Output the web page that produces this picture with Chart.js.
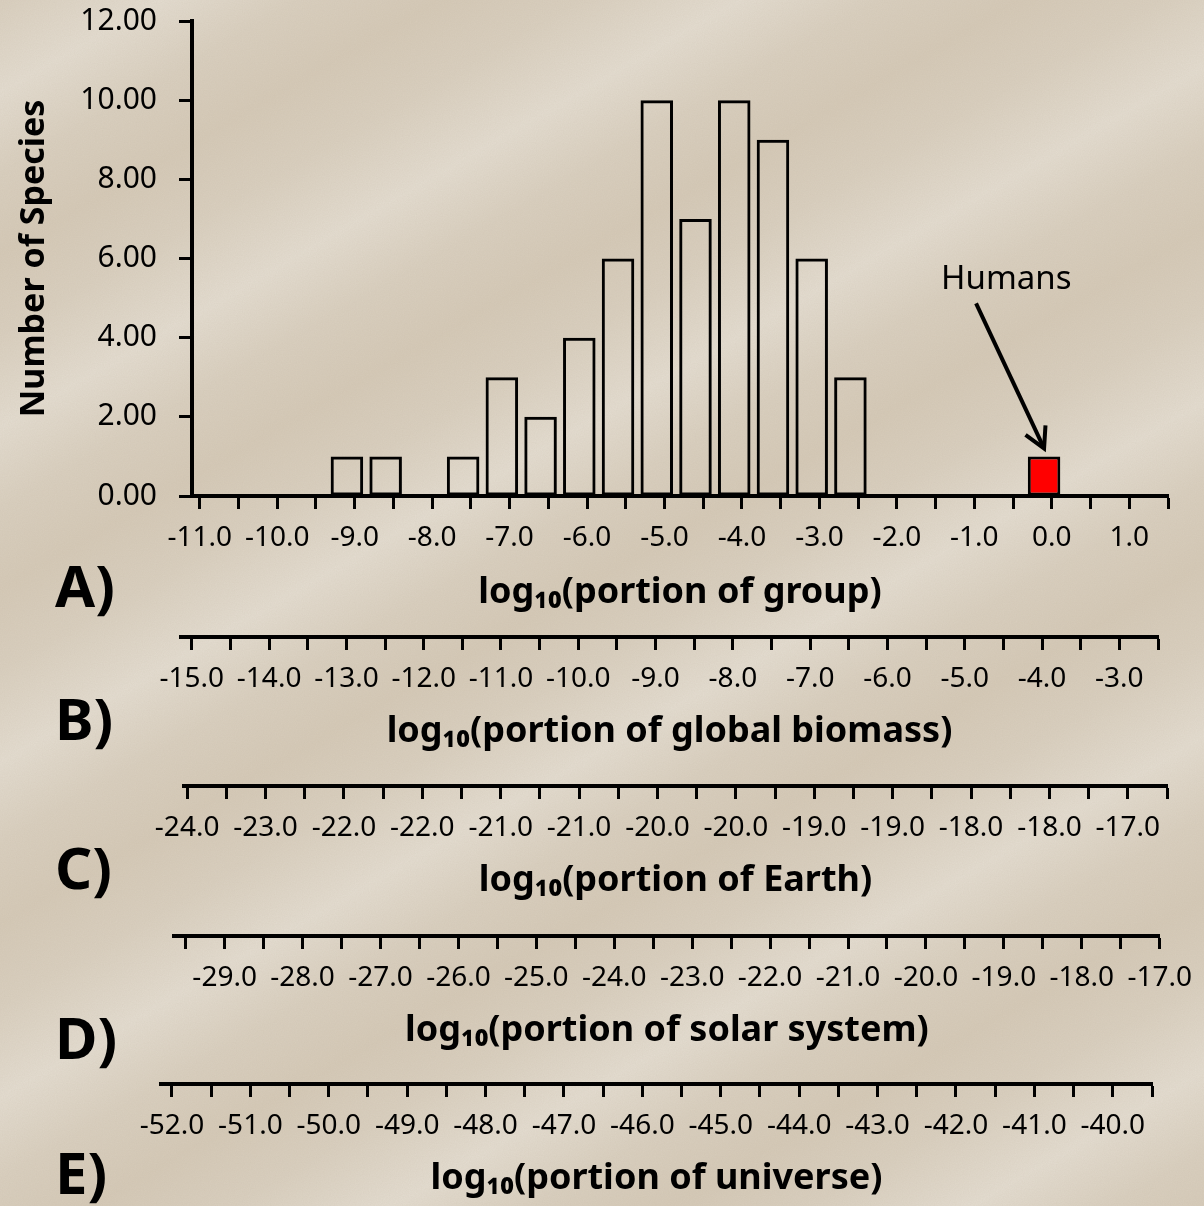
<!DOCTYPE html>
<html>
<head>
<meta charset="utf-8">
<title>Species biomass histogram</title>
<script src="https://cdn.jsdelivr.net/npm/chart.js@4.4.1/dist/chart.umd.min.js"></script>
<style>
  html, body { margin: 0; padding: 0; }
  body {
    width: 1204px;
    height: 1206px;
    position: relative;
    overflow: hidden;
    background-color: #d9cfbf;
    background-image:
      repeating-linear-gradient(150deg,
        rgba(236, 231, 222, 0) 0px,
        rgba(236, 231, 222, 0.55) 80px,
        rgba(236, 231, 222, 0) 150px,
        rgba(200, 184, 160, 0.25) 220px,
        rgba(236, 231, 222, 0) 290px);
  }
  .grain {
    position: absolute;
    left: 0; top: 0; width: 1204px; height: 1206px;
    background-image: url("data:image/svg+xml;utf8,<svg xmlns='http://www.w3.org/2000/svg' width='300' height='300'><filter id='n'><feTurbulence type='fractalNoise' baseFrequency='0.85' numOctaves='2' stitchTiles='stitch'/><feColorMatrix values='0 0 0 0 0.45 0 0 0 0 0.38 0 0 0 0 0.28 0 0 0 0.5 0'/></filter><rect width='100%' height='100%' filter='url(%23n)'/></svg>");
    opacity: 0.3;
  }
  canvas { position: absolute; left: 0; }
  .panel {
    position: absolute;
    left: 55px;
    font: bold 58px 'Noto Sans', sans-serif;
    line-height: 58px;
    color: #000;
  }
</style>
</head>
<body>
<div class="grain"></div>
<canvas id="chartA" width="1204" height="633" style="top:-19px"></canvas>
<canvas id="axisB" width="1204" height="280" style="top:475px"></canvas>
<canvas id="axisC" width="1204" height="280" style="top:624px"></canvas>
<canvas id="axisD" width="1204" height="280" style="top:774px"></canvas>
<canvas id="axisE" width="1204" height="280" style="top:922px"></canvas>
<div class="panel" style="top:556px">A)</div>
<div class="panel" style="top:689px">B)</div>
<div class="panel" style="top:838px">C)</div>
<div class="panel" style="top:1008px">D)</div>
<div class="panel" style="top:1143px">E)</div>

<script>
// Histograma: centro de cada barra en log10(porción del grupo) y número de especies
const binCenters = [-9.1, -8.6, -7.6, -7.1, -6.6, -6.1, -5.6, -5.1, -4.6, -4.1, -3.6, -3.1, -2.6, -0.1];
const speciesCounts = [1, 1, 1, 3, 2, 4, 6, 10, 7, 10, 9, 6, 3, 1];
const humansBin = -0.1;

// Etiquetas de los ejes secundarios (una por unidad del eje A)
const biomassLabels = ['-15.0', '-14.0', '-13.0', '-12.0', '-11.0', '-10.0', '-9.0', '-8.0', '-7.0', '-6.0', '-5.0', '-4.0', '-3.0'];
const earthLabels = ['-24.0', '-23.0', '-22.0', '-22.0', '-21.0', '-21.0', '-20.0', '-20.0', '-19.0', '-19.0', '-18.0', '-18.0', '-17.0'];
const solarLabels = ['-29.0', '-28.0', '-27.0', '-26.0', '-25.0', '-24.0', '-23.0', '-22.0', '-21.0', '-20.0', '-19.0', '-18.0', '-17.0'];
const universeLabels = ['-52.0', '-51.0', '-50.0', '-49.0', '-48.0', '-47.0', '-46.0', '-45.0', '-44.0', '-43.0', '-42.0', '-41.0', '-40.0'];

Chart.defaults.font.family = "'Noto Sans', sans-serif";
Chart.defaults.color = '#000';

const gridStyle = { drawOnChartArea: false, offset: false, color: '#000', tickLength: 13, tickWidth: 3 };
const borderStyle = { display: true, color: '#000', width: 4 };

// Flecha y texto "Humans" apuntando a la barra roja
const humansArrow = {
    id: 'humansArrow',
    afterDatasetsDraw(chart) {
        const { ctx, scales: { x, y } } = chart;
        const i = binCenters.indexOf(humansBin);
        const tipX = x.getPixelForValue(humansBin);
        const tipY = y.getPixelForValue(speciesCounts[i]) - 8;
        const tailX = tipX - 68;
        const tailY = tipY - 145;
        const ang = Math.atan2(tipY - tailY, tipX - tailX);
        const head = 23;

        ctx.save();
        ctx.strokeStyle = '#000';
        ctx.fillStyle = '#000';
        ctx.lineWidth = 4;
        ctx.lineJoin = 'miter';
        ctx.beginPath();
        ctx.moveTo(tailX, tailY);
        ctx.lineTo(tipX - Math.cos(ang) * 3, tipY - Math.sin(ang) * 3);
        ctx.stroke();
        ctx.beginPath();
        ctx.moveTo(tipX - head * Math.cos(ang - 0.5), tipY - head * Math.sin(ang - 0.5));
        ctx.lineTo(tipX, tipY);
        ctx.lineTo(tipX - head * Math.cos(ang + 0.5), tipY - head * Math.sin(ang + 0.5));
        ctx.stroke();

        ctx.font = "33px 'Noto Sans', sans-serif";
        ctx.textBaseline = 'alphabetic';
        ctx.textAlign = 'left';
        ctx.fillText('Humans', tipX - 103, tipY - 159);
        ctx.restore();
    }
};

// Gráfico principal (A)
new Chart(document.getElementById('chartA'), {
    type: 'bar',
    data: {
        datasets: [{
            label: 'Number of Species',
            data: binCenters.map((x, i) => ({ x, y: speciesCounts[i] })),
            backgroundColor: binCenters.map(x => x === humansBin ? '#ff0000' : 'rgba(0,0,0,0)'),
            borderColor: '#000',
            borderWidth: 3,
            borderSkipped: false,
            barPercentage: 0.84,
            categoryPercentage: 1
        }]
    },
    options: {
        responsive: false,
        animation: false,
        layout: { padding: { top: 21, right: 36, left: 0, bottom: 0 } },
        plugins: {
            legend: { display: false },
            tooltip: { enabled: false }
        },
        scales: {
            x: {
                type: 'linear',
                min: -11.1,
                max: 1.5,
                offset: false,
                grid: gridStyle,
                border: borderStyle,
                ticks: {
                    stepSize: 0.5,
                    includeBounds: false,
                    autoSkip: false,
                    maxRotation: 0,
                    minRotation: 0,
                    padding: 12,
                    font: { size: 28 },
                    callback: v => Number.isInteger(v) ? v.toFixed(1) : ''
                },
                title: {
                    display: true,
                    text: 'log₁₀(portion of group)',
                    font: { size: 36, weight: 'bold' },
                    padding: { top: 14, bottom: 0 }
                },
                afterFit: s => { s.height = 118; }
            },
            y: {
                min: 0,
                max: 12,
                grid: gridStyle,
                border: borderStyle,
                ticks: {
                    stepSize: 2,
                    padding: 22,
                    font: { size: 30 },
                    callback: v => v.toFixed(2)
                },
                title: {
                    display: true,
                    text: 'Number of Species',
                    font: { size: 34, weight: 'bold' },
                    padding: { top: 14, bottom: 0 }
                },
                afterFit: s => { s.width = 192; }
            }
        }
    },
    plugins: [humansArrow]
});

// Ejes secundarios B-E: solo eje x con sus etiquetas
function axisChart(id, labels, min, max, left, right, title) {
    return new Chart(document.getElementById(id), {
        type: 'scatter',
        data: { datasets: [] },
        options: {
            responsive: false,
            animation: false,
            layout: { padding: { left: left, right: 1204 - right, top: 0, bottom: 0 } },
            plugins: {
                legend: { display: false },
                tooltip: { enabled: false }
            },
            scales: {
                x: {
                    type: 'linear',
                    position: 'bottom',
                    min: min,
                    max: max,
                    grid: gridStyle,
                    border: borderStyle,
                    ticks: {
                        stepSize: 0.5,
                        includeBounds: false,
                        autoSkip: false,
                        maxRotation: 0,
                        minRotation: 0,
                        padding: 12,
                        font: { size: 28 },
                        callback: v => Number.isInteger(v) ? labels[v] : ''
                    },
                    title: {
                        display: true,
                        text: title,
                        font: { size: 36, weight: 'bold' },
                        padding: { top: 14, bottom: 2 }
                    },
                    afterFit: s => { s.height = 118; }
                },
                y: { display: false }
            }
        }
    });
}

axisChart('axisB', biomassLabels, -0.14, 12.5, 181, 1158, 'log₁₀(portion of global biomass)');
axisChart('axisC', earthLabels, -0.04, 12.5, 184, 1167, 'log₁₀(portion of Earth)');
axisChart('axisD', solarLabels, -0.65, 12.0, 174, 1165, 'log₁₀(portion of solar system)');
axisChart('axisE', universeLabels, -0.14, 12.5, 161, 1152, 'log₁₀(portion of universe)');
</script>
</body>
</html>
